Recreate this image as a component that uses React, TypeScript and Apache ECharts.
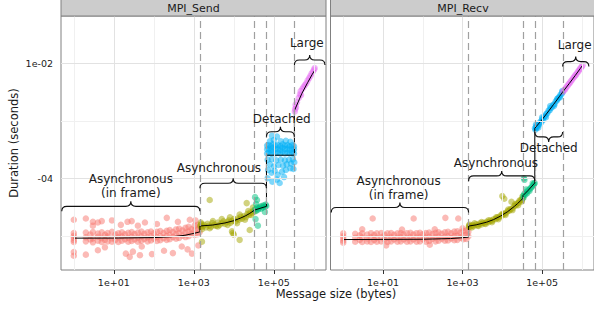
import React, { useEffect, useRef } from "react";
import * as echarts from "echarts";

// ---------------- data: message size (bytes), duration (seconds) ----------------
const panelTitles = ["MPI_Send", "MPI_Recv"];
const groupColors = ["#F8766D", "#A3A500", "#00BF7D", "#00B0F6", "#E76BF3"];
const thresholds = [1420, 33000, 65536, 327680];
const xTickValues = [10, 1000, 100000];
const xTickLabels = ["1e+01", "1e+03", "1e+05"];
const xMinorValues = [1, 100, 10000, 1000000];
const yTickValues = [1e-2, 1e-4];
const yTickLabels = ["1e-02", "-04"];
const yMinorValues = [1e-3, 1e-5];
const labelTexts = ["Asynchronous\n(in frame)", "Asynchronous", "Detached", "Large"];

// MPI_Send
const sendFrame = [
  [1, 1.12e-5], [1, 1.0e-5], [1, 9.2e-6], [1, 8.4e-6], [1, 7.8e-6],
  [2, 1.14e-5], [2, 9.4e-6], [2, 8.0e-6], [2.6, 1.05e-5], [2.6, 8.6e-6],
  [3, 1.16e-5], [3, 9.0e-6], [3, 7.7e-6], [4, 1.09e-5], [4, 9.6e-6], [4, 8.2e-6],
  [5, 1.15e-5], [5, 9.1e-6], [5, 7.8e-6], [6, 1.04e-5], [6, 8.5e-6],
  [7, 1.12e-5], [7, 9.7e-6], [7, 8.0e-6], [9, 1.17e-5], [9, 9.0e-6], [9, 7.9e-6],
  [11, 1.05e-5], [11, 8.5e-6], [13, 1.1e-5], [13, 9.4e-6], [13, 7.8e-6],
  [16, 1.15e-5], [16, 9.7e-6], [16, 8.2e-6], [19, 1.06e-5], [19, 8.7e-6],
  [23, 1.13e-5], [23, 9.2e-6], [23, 7.9e-6], [28, 1.16e-5], [28, 9.6e-6], [28, 8.1e-6],
  [33, 1.07e-5], [33, 8.6e-6], [40, 1.14e-5], [40, 9.3e-6], [40, 7.9e-6],
  [49, 1.18e-5], [49, 9.7e-6], [49, 8.2e-6], [58, 1.08e-5], [58, 8.8e-6],
  [70, 1.15e-5], [70, 9.4e-6], [70, 8.0e-6], [85, 1.19e-5], [85, 9.8e-6], [85, 8.3e-6],
  [100, 1.1e-5], [100, 8.9e-6], [120, 1.17e-5], [120, 9.5e-6], [120, 8.1e-6],
  [145, 1.21e-5], [145, 9.9e-6], [145, 8.4e-6], [175, 1.12e-5], [175, 9.1e-6],
  [210, 1.22e-5], [210, 1.0e-5], [210, 8.5e-6], [250, 1.26e-5], [250, 1.04e-5], [250, 8.7e-6],
  [300, 1.16e-5], [300, 9.5e-6], [360, 1.29e-5], [360, 1.06e-5], [360, 8.9e-6],
  [430, 1.33e-5], [430, 1.1e-5], [430, 9.2e-6], [520, 1.24e-5], [520, 1.0e-5],
  [620, 1.38e-5], [620, 1.14e-5], [620, 9.5e-6], [740, 1.43e-5], [740, 1.18e-5], [740, 9.8e-6],
  [880, 1.3e-5], [880, 1.08e-5], [1050, 1.5e-5], [1050, 1.24e-5], [1050, 1.03e-5],
  [1250, 1.55e-5], [1250, 1.28e-5], [1250, 1.07e-5], [1400, 1.42e-5], [1400, 1.16e-5],
  [1, 1.9e-5], [1, 5.2e-6], [1, 4.5e-6], [2, 2.0e-5], [2, 4.7e-6], [3, 1.75e-5], [3, 1.5e-5],
  [4, 1.7e-5], [4, 5.6e-6], [5, 1.8e-5], [6, 6.3e-6], [9, 1.85e-5], [15, 1.55e-5], [20, 4.9e-6],
  [22, 1.75e-5], [25, 4.3e-6], [28, 1.8e-5], [30, 5.3e-6], [40, 1.5e-5], [45, 4.6e-6],
  [50, 6.5e-6], [60, 1.7e-5], [90, 4.8e-6], [120, 1.6e-5], [180, 5.5e-6], [211, 2.05e-5],
  [300, 5.0e-6], [400, 1.75e-5], [500, 6.5e-6], [700, 5.8e-6], [794, 1.9e-5], [900, 4.9e-6],
  [1100, 1.85e-5], [1300, 6.8e-6],
];
const sendAsync = [
  [1450, 1.52e-5], [1500, 1.42e-5], [1550, 1.6e-5], [1700, 1.45e-5], [1800, 1.55e-5],
  [2000, 1.4e-5], [2200, 1.62e-5], [2400, 1.5e-5], [2700, 1.44e-5], [2900, 1.66e-5],
  [3300, 1.55e-5], [3600, 1.48e-5], [4000, 1.7e-5], [4400, 1.55e-5], [5000, 1.65e-5],
  [5500, 1.78e-5], [6000, 1.6e-5], [6800, 1.74e-5], [7500, 1.85e-5], [8200, 1.68e-5],
  [9000, 1.8e-5], [10000, 1.95e-5], [11000, 1.78e-5], [12500, 2.0e-5], [13500, 1.9e-5],
  [15000, 2.15e-5], [16000, 1.98e-5], [18000, 2.2e-5], [20000, 2.1e-5], [22000, 2.4e-5],
  [24000, 2.3e-5], [26000, 2.55e-5], [29000, 2.5e-5], [31000, 2.75e-5], [33000, 2.65e-5],
  [1600, 1.3e-5], [2500, 1.35e-5], [4000, 1.45e-5], [7000, 1.55e-5], [12000, 1.65e-5],
  [19000, 1.9e-5], [27000, 2.3e-5], [1500, 1.7e-5], [3000, 1.8e-5], [5000, 1.95e-5],
  [8000, 2.1e-5], [14000, 2.35e-5], [23000, 2.7e-5], [30000, 3.1e-5],
  [2500, 4.2e-5], [9400, 1.12e-5], [14000, 8.5e-6], [25000, 1.26e-5], [1600, 7.9e-6],
  [21000, 3.7e-5], [9000, 1.2e-5], [10000, 1.05e-5],
];
const sendMid = [
  [34000, 2.9e-5], [36000, 2.7e-5], [38000, 3.1e-5], [40000, 2.85e-5], [42000, 3.0e-5],
  [45000, 3.2e-5], [48000, 2.95e-5], [50000, 3.3e-5], [53000, 3.1e-5], [56000, 3.4e-5],
  [60000, 3.2e-5], [63000, 3.5e-5], [65000, 3.3e-5], [36000, 3.6e-5], [60000, 2.6e-5],
  [38000, 4.2e-5], [34000, 4.7e-5], [35000, 1.95e-5], [40000, 1.5e-5],
];
const sendDetached = [
  [68000, 2.7e-4], [68000, 3.2e-4], [68000, 3.7e-4], [75000, 2.8e-4], [75000, 3.3e-4], [75000, 3.8e-4],
  [85000, 2.7e-4], [85000, 3.1e-4], [85000, 3.6e-4], [95000, 2.9e-4], [95000, 3.4e-4], [95000, 3.9e-4],
  [110000, 2.7e-4], [110000, 3.2e-4], [110000, 3.7e-4], [125000, 2.8e-4], [125000, 3.3e-4], [125000, 3.8e-4],
  [145000, 2.7e-4], [145000, 3.1e-4], [145000, 3.6e-4], [165000, 2.9e-4], [165000, 3.4e-4], [165000, 3.9e-4],
  [190000, 2.7e-4], [190000, 3.2e-4], [190000, 3.7e-4], [220000, 2.8e-4], [220000, 3.3e-4], [220000, 3.8e-4],
  [250000, 2.7e-4], [250000, 3.1e-4], [250000, 3.6e-4], [290000, 2.8e-4], [290000, 3.3e-4], [290000, 3.8e-4],
  [320000, 2.7e-4], [320000, 3.2e-4], [320000, 3.6e-4],
  [70000, 2.1e-4], [80000, 1.75e-4], [90000, 2.15e-4], [100000, 1.6e-4], [115000, 2.05e-4],
  [130000, 1.7e-4], [150000, 2.1e-4], [170000, 1.65e-4], [190000, 2.05e-4], [210000, 1.75e-4],
  [240000, 2.1e-4], [270000, 1.8e-4], [300000, 2.15e-4], [325000, 1.9e-4],
  [72000, 1.4e-4], [88000, 1.25e-4], [105000, 1.35e-4], [125000, 1.15e-4], [160000, 1.3e-4],
  [200000, 1.4e-4], [260000, 1.5e-4], [310000, 1.45e-4],
  [70000, 1.0e-4], [92000, 8.7e-5], [120000, 9.5e-5], [180000, 1.05e-4], [140000, 8.3e-5],
  [90000, 5.5e-4], [120000, 5.3e-4], [100000, 4.6e-4], [150000, 4.4e-4], [200000, 4.5e-4],
  [260000, 4.3e-4], [80000, 4.4e-4],
];
const sendLarge = [
  [335000, 1.45e-3], [340000, 1.6e-3], [350000, 1.9e-3], [360000, 1.7e-3], [380000, 2.1e-3],
  [420000, 2.5e-3], [450000, 2.9e-3], [470000, 3.3e-3], [480000, 2.8e-3], [520000, 3.6e-3],
  [560000, 3.9e-3], [600000, 4.2e-3], [650000, 4.5e-3], [700000, 5.0e-3], [760000, 5.5e-3],
  [820000, 6.0e-3], [880000, 6.6e-3], [950000, 7.2e-3], [1020000, 7.8e-3], [1050000, 8.3e-3],
];
const sendFit = [
  [1, 9.1e-6], [10, 9.12e-6], [100, 9.3e-6], [300, 9.66e-6], [600, 1.02e-5], [1000, 1.1e-5],
  [1420, 1.17e-5], [1420, 1.48e-5], [3000, 1.54e-5], [6000, 1.67e-5], [10000, 1.83e-5],
  [15000, 2.04e-5], [20000, 2.24e-5], [25000, 2.45e-5], [33000, 2.8e-5], [45000, 3.0e-5],
  [65536, 3.25e-5], [65536, 2.52e-4], [327680, 2.52e-4], [327680, 1.5e-3], [500000, 2.96e-3],
  [700000, 4.6e-3], [900000, 6.3e-3], [1060000, 7.6e-3],
];
const sendLabels = [[26.6, 7.3e-5], [4220, 1.51e-4], [158000, 1.07e-3], [668000, 2.25e-2]];
const sendBraces = [
  [0.5, 1420, 3.25e-5, 1], [1420, 65536, 8.2e-5, 1], [65536, 327680, 6.45e-4, 1], [327680, 1.9e6, 1.14e-2, 1],
];

// MPI_Recv
const recvFrame = [
  [1, 1.1e-5], [1, 9.8e-6], [1, 9.0e-6], [1, 8.2e-6], [1, 7.6e-6],
  [2, 1.08e-5], [2, 9.2e-6], [2, 7.9e-6], [2.6, 1.02e-5], [2.6, 8.5e-6],
  [3, 1.1e-5], [3, 9.3e-6], [3, 7.8e-6], [4, 1.05e-5], [4, 9.0e-6], [4, 8.0e-6],
  [5, 1.11e-5], [5, 9.4e-6], [5, 7.8e-6], [6, 1.03e-5], [6, 8.5e-6],
  [7, 1.1e-5], [7, 9.2e-6], [7, 7.9e-6], [9, 1.12e-5], [9, 9.4e-6], [9, 8.0e-6],
  [11, 1.04e-5], [11, 8.6e-6], [13, 1.1e-5], [13, 9.2e-6], [13, 7.8e-6],
  [16, 1.12e-5], [16, 9.4e-6], [16, 8.0e-6], [19, 1.04e-5], [19, 8.6e-6],
  [23, 1.1e-5], [23, 9.2e-6], [23, 7.9e-6], [28, 1.12e-5], [28, 9.4e-6], [28, 8.0e-6],
  [33, 1.05e-5], [33, 8.6e-6], [40, 1.11e-5], [40, 9.2e-6], [40, 7.9e-6],
  [49, 1.13e-5], [49, 9.4e-6], [49, 8.0e-6], [58, 1.05e-5], [58, 8.6e-6],
  [70, 1.11e-5], [70, 9.3e-6], [70, 7.9e-6], [85, 1.13e-5], [85, 9.4e-6], [85, 8.0e-6],
  [100, 1.06e-5], [100, 8.7e-6], [120, 1.12e-5], [120, 9.3e-6], [120, 7.9e-6],
  [145, 1.14e-5], [145, 9.5e-6], [145, 8.1e-6], [175, 1.07e-5], [175, 8.8e-6],
  [210, 1.13e-5], [210, 9.4e-6], [210, 8.0e-6], [250, 1.15e-5], [250, 9.6e-6], [250, 8.2e-6],
  [300, 1.08e-5], [300, 8.9e-6], [360, 1.15e-5], [360, 9.6e-6], [360, 8.2e-6],
  [430, 1.17e-5], [430, 9.8e-6], [430, 8.3e-6], [520, 1.1e-5], [520, 9.0e-6],
  [620, 1.18e-5], [620, 9.9e-6], [620, 8.4e-6], [740, 1.2e-5], [740, 1.0e-5], [740, 8.5e-6],
  [880, 1.13e-5], [880, 9.3e-6], [1050, 1.22e-5], [1050, 1.02e-5], [1050, 8.7e-6],
  [1250, 1.24e-5], [1250, 1.04e-5], [1250, 8.8e-6], [1400, 1.18e-5], [1400, 9.8e-6],
  [5.5, 2.0e-5], [59, 2.0e-5], [370, 2.05e-5], [780, 2.0e-5], [3, 1.3e-5], [30, 1.28e-5],
  [200, 1.3e-5], [1000, 1.35e-5], [12, 6.8e-6], [150, 7.0e-6],
];
const recvAsync = [
  [1450, 1.5e-5], [1450, 1.42e-5], [1500, 1.56e-5], [1600, 1.46e-5], [1800, 1.53e-5],
  [1900, 1.47e-5], [2200, 1.58e-5], [2400, 1.52e-5], [2700, 1.63e-5], [3000, 1.57e-5],
  [3300, 1.68e-5], [3600, 1.64e-5], [4000, 1.75e-5], [4500, 1.72e-5], [5000, 1.85e-5],
  [5500, 1.82e-5], [6000, 1.94e-5], [6800, 1.95e-5], [7500, 2.09e-5], [8200, 2.08e-5],
  [9000, 2.24e-5], [10000, 2.27e-5], [11000, 2.43e-5], [12000, 2.45e-5], [13500, 2.66e-5],
  [15000, 2.72e-5], [16000, 2.91e-5], [18000, 3.0e-5], [20000, 3.3e-5], [22000, 3.38e-5],
  [24000, 3.68e-5], [26000, 3.77e-5], [29000, 4.16e-5], [31000, 4.2e-5], [33000, 4.55e-5],
  [1700, 1.4e-5], [2500, 1.48e-5], [3800, 1.6e-5], [5500, 1.72e-5], [8000, 1.95e-5],
  [12000, 2.3e-5], [18000, 2.8e-5], [25000, 3.4e-5], [31000, 3.95e-5],
  [2000, 1.65e-5], [3000, 1.74e-5], [4500, 1.86e-5], [7000, 2.1e-5], [10000, 2.4e-5],
  [14000, 2.85e-5], [21000, 3.55e-5], [27000, 4.1e-5], [32000, 4.8e-5],
  [10000, 4.9e-5], [11200, 4.4e-5], [17000, 3.9e-5],
];
const recvMid = [
  [34000, 5.0e-5], [36000, 5.4e-5], [38000, 5.2e-5], [40000, 5.8e-5], [42000, 5.5e-5],
  [45000, 6.2e-5], [48000, 6.0e-5], [50000, 6.6e-5], [53000, 6.9e-5], [56000, 7.2e-5],
  [60000, 7.6e-5], [63000, 8.0e-5], [65000, 8.3e-5], [35000, 1.0e-4], [36000, 9.4e-5],
  [34000, 4.6e-5], [40000, 6.4e-5], [58000, 8.2e-5],
];
const recvDetached = [
  [66000, 7.4e-4], [68000, 7.0e-4], [70000, 7.9e-4], [72000, 7.5e-4], [75000, 8.3e-4],
  [78000, 8.0e-4], [82000, 8.9e-4], [85000, 8.6e-4], [90000, 9.6e-4], [95000, 9.4e-4],
  [100000, 1.06e-3], [106000, 1.03e-3], [112000, 1.16e-3], [120000, 1.22e-3], [128000, 1.32e-3],
  [135000, 1.35e-3], [145000, 1.5e-3], [155000, 1.53e-3], [165000, 1.68e-3], [175000, 1.7e-3],
  [190000, 1.9e-3], [205000, 1.95e-3], [220000, 2.18e-3], [235000, 2.25e-3], [250000, 2.45e-3],
  [270000, 2.6e-3], [290000, 2.82e-3], [310000, 2.95e-3], [325000, 3.15e-3],
  [70000, 8.6e-4], [80000, 7.6e-4], [100000, 1.15e-3], [125000, 1.15e-3], [160000, 1.8e-3],
  [200000, 1.82e-3], [240000, 2.4e-3], [280000, 2.55e-3], [320000, 3.3e-3],
];
const recvLarge = [
  [335000, 3.2e-3], [360000, 3.4e-3], [380000, 3.55e-3], [400000, 3.8e-3], [430000, 4.0e-3],
  [460000, 4.3e-3], [490000, 4.5e-3], [520000, 4.8e-3], [560000, 5.1e-3], [600000, 5.5e-3],
  [640000, 5.8e-3], [680000, 6.15e-3], [720000, 6.4e-3], [770000, 6.9e-3], [820000, 7.3e-3],
  [870000, 7.8e-3], [920000, 8.15e-3], [980000, 8.7e-3], [1040000, 9.2e-3],
];
const recvFit = [
  [1, 8.6e-6], [100, 8.7e-6], [500, 8.95e-6], [1000, 9.25e-6], [1420, 9.5e-6], [1420, 1.475e-5],
  [2200, 1.55e-5], [4000, 1.72e-5], [6000, 1.91e-5], [9000, 2.2e-5], [13500, 2.62e-5],
  [20000, 3.24e-5], [24000, 3.62e-5], [29000, 4.1e-5], [33000, 4.48e-5], [33000, 5.0e-5],
  [45000, 6.2e-5], [65536, 8.3e-5], [65536, 7.4e-4], [100000, 1.05e-3], [140000, 1.42e-3],
  [195000, 1.93e-3], [270000, 2.62e-3], [327680, 3.15e-3], [480000, 4.43e-3], [680000, 6.13e-3],
  [920000, 8.17e-3], [1050000, 9.3e-3],
];
const recvLabels = [[24.7, 6.8e-5], [6900, 1.85e-4], [147000, 3.37e-4], [660000, 2.09e-2]];
const recvBraces = [
  [0.5, 1420, 3.1e-5, 1], [1420, 65536, 1.1e-4, 1], [65536, 327680, 5.25e-4, -1], [327680, 1.5e6, 1.07e-2, 1],
];

// ---------------- chart ----------------
const FONT = "DejaVu Sans";
const L = Math.log10;
const lg = (pts: number[][]) => pts.map(([b, s]) => [L(b), L(s)]);
const X_MIN = -0.32;
const X_MAX = X_MIN + 265 / 40;
const Y_MIN = -5.595;
const Y_MAX = Y_MIN + 254 / 57.5;

function panelSeries(i: number, groups: number[][][], fit: number[][], braces: number[][], labels: number[][]) {
  const ax = { xAxisIndex: i, yAxisIndex: i };
  const minor = { color: "#f0f0f0", width: 1, type: "solid" };
  const major = { color: "#e2e2e2", width: 1, type: "solid" };
  const series: any[] = [];
  series.push({
    type: "line", ...ax, data: [], silent: true, z: 1, symbol: "none",
    markLine: {
      silent: true, symbol: ["none", "none"], label: { show: false }, animation: false,
      data: [
        ...xMinorValues.map((v) => ({ xAxis: L(v), lineStyle: minor })),
        ...yMinorValues.map((v) => ({ yAxis: L(v), lineStyle: minor })),
        ...xTickValues.map((v) => ({ xAxis: L(v), lineStyle: major })),
        ...yTickValues.map((v) => ({ yAxis: L(v), lineStyle: major })),
      ],
    },
  });
  series.push({
    type: "line", ...ax, data: [], silent: true, z: 2, symbol: "none",
    markLine: {
      silent: true, symbol: ["none", "none"], label: { show: false }, animation: false,
      lineStyle: { color: "#a0a0a0", width: 1.2, type: [7, 4] },
      data: thresholds.map((v) => ({ xAxis: L(v) })),
    },
  });
  groups.forEach((g, k) => {
    series.push({
      type: "scatter", ...ax, data: lg(g), symbolSize: 6.5, silent: true, z: 3,
      itemStyle: { color: groupColors[k], opacity: 0.5 },
    });
  });
  series.push({
    type: "line", ...ax, data: lg(fit), symbol: "none", showSymbol: false, silent: true, z: 4,
    lineStyle: { color: "#000", width: 1 },
  });
  series.push({
    type: "custom", ...ax, silent: true, z: 5,
    data: braces.map((b) => [L(b[0]), L(b[1]), L(b[2]), b[3]]),
    renderItem: (_p: any, api: any) => {
      const a = api.coord([api.value(0), api.value(2)]);
      const b = api.coord([api.value(1), api.value(2)]);
      const dir = api.value(3);
      const h = 5 * dir;
      const y = a[1];
      const x1 = a[0];
      const x2 = b[0];
      const xm = (x1 + x2) / 2;
      const r = Math.min(5, (x2 - x1) / 4);
      const d = `M${x1},${y + h} Q${x1},${y} ${x1 + r},${y} L${xm - r},${y} Q${xm},${y} ${xm},${y - h} Q${xm},${y} ${xm + r},${y} L${x2 - r},${y} Q${x2},${y} ${x2},${y + h}`;
      return { type: "path", shape: { pathData: d }, style: { fill: "none", stroke: "#111", lineWidth: 1.1 } };
    },
  });
  series.push({
    type: "custom", ...ax, silent: true, z: 6,
    data: labels.map((p, k) => [L(p[0]), L(p[1]), k]),
    renderItem: (_p: any, api: any) => {
      const p = api.coord([api.value(0), api.value(1)]);
      return {
        type: "text", x: p[0], y: p[1],
        style: {
          text: labelTexts[api.value(2)], fill: "#1a1a1a", fontSize: 12, fontFamily: FONT,
          align: "center", verticalAlign: "middle", lineHeight: 14,
        },
      };
    },
  });
  return series;
}

function fmtX(v: number) {
  const k = xTickValues.findIndex((t) => Math.abs(L(t) - v) < 1e-6);
  return k >= 0 ? xTickLabels[k] : "";
}
function fmtY(v: number) {
  const k = yTickValues.findIndex((t) => Math.abs(L(t) - v) < 1e-6);
  return k >= 0 ? yTickLabels[k] : "";
}

export default function App() {
  const ref = useRef<HTMLDivElement>(null);
  useEffect(() => {
    if (!ref.current) return;
    const chart = echarts.init(ref.current, undefined, { renderer: "svg" });
    const lefts = [61, 330.5];
    const option: any = {
      animation: false,
      backgroundColor: "#ffffff",
      grid: lefts.map((l) => ({
        left: l, top: 16, width: 265, height: 254, show: true,
        borderColor: "#808080", borderWidth: 1, backgroundColor: "#ffffff", containLabel: false,
      })),
      xAxis: lefts.map((_, i) => ({
        type: "value", gridIndex: i, min: X_MIN, max: X_MAX,
        axisLine: { show: false }, splitLine: { show: false },
        axisTick: { show: true, customValues: xTickValues.map(L), length: 4, lineStyle: { color: "#333" } },
        axisLabel: {
          show: true, customValues: xTickValues.map(L), formatter: fmtX, margin: 7,
          fontSize: 9.5, color: "#1a1a1a", fontFamily: FONT,
        },
      })),
      yAxis: lefts.map((_, i) => ({
        type: "value", gridIndex: i, min: Y_MIN, max: Y_MAX,
        axisLine: { show: false }, splitLine: { show: false },
        axisTick: { show: i === 0, customValues: yTickValues.map(L), length: 4, lineStyle: { color: "#333" } },
        axisLabel: {
          show: i === 0, customValues: yTickValues.map(L), formatter: fmtY, margin: 8,
          fontSize: 9.5, color: "#1a1a1a", fontFamily: FONT,
        },
      })),
      series: [
        ...panelSeries(0, [sendFrame, sendAsync, sendMid, sendDetached, sendLarge], sendFit, sendBraces, sendLabels),
        ...panelSeries(1, [recvFrame, recvAsync, recvMid, recvDetached, recvLarge], recvFit, recvBraces, recvLabels),
      ],
      graphic: [
        { type: "rect", shape: { x: 61, y: -1, width: 265, height: 17 }, style: { fill: "#cccccc", stroke: "#808080", lineWidth: 1 }, z: 10 },
        { type: "text", x: 193.5, y: 8.5, style: { text: panelTitles[0], fontSize: 11, fontFamily: FONT, fill: "#1a1a1a", align: "center", verticalAlign: "middle" }, z: 11 },
        { type: "rect", shape: { x: 330.5, y: -1, width: 265, height: 17 }, style: { fill: "#cccccc", stroke: "#808080", lineWidth: 1 }, z: 10 },
        { type: "text", x: 463, y: 8.5, style: { text: panelTitles[1], fontSize: 11, fontFamily: FONT, fill: "#1a1a1a", align: "center", verticalAlign: "middle" }, z: 11 },
        { type: "text", x: 336, y: 294, style: { text: "Message size (bytes)", fontSize: 11.5, fontFamily: FONT, fill: "#1a1a1a", align: "center", verticalAlign: "middle" }, z: 11 },
        { type: "text", x: 14, y: 143, rotation: Math.PI / 2, style: { text: "Duration (seconds)", fontSize: 11.5, fontFamily: FONT, fill: "#1a1a1a", align: "center", verticalAlign: "middle" }, z: 11 },
      ],
    };
    chart.setOption(option);
    return () => chart.dispose();
  }, []);
  return <div ref={ref} style={{ position: "absolute", left: 0, top: 0, width: 594, height: 311 }} />;
}
